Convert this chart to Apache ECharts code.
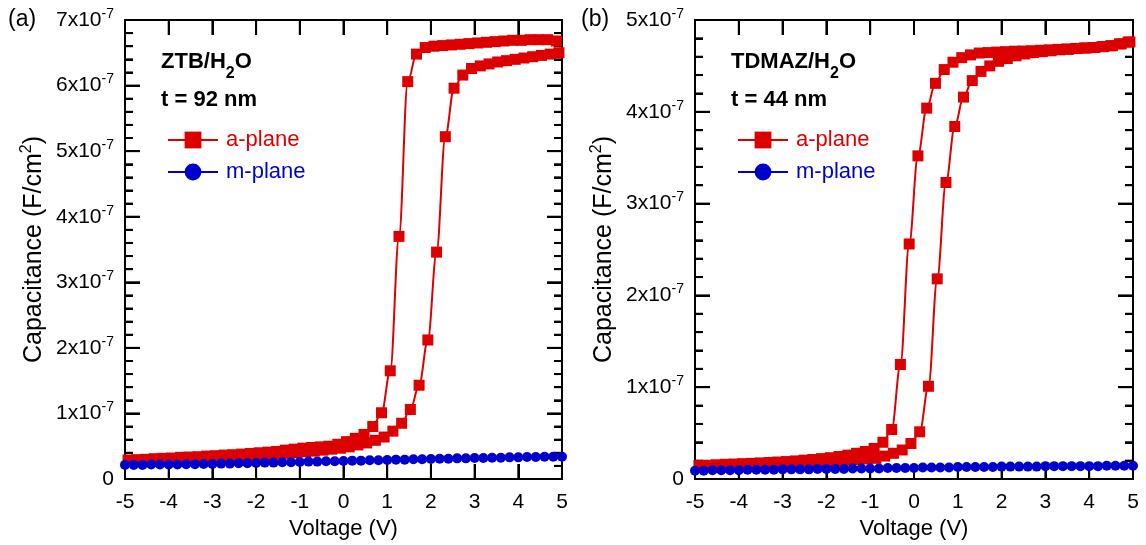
<!DOCTYPE html>
<html>
<head>
<meta charset="utf-8">
<script src="https://cdn.jsdelivr.net/npm/echarts@6/dist/echarts.min.js"></script>
<style>
  html, body { margin: 0; padding: 0; background: #fff; }
  #chart { width: 1146px; height: 545px; }
</style>
</head>
<body>
<div id="chart"></div>
<script>
// C–V sweeps of ZrO2 films on a-plane and m-plane substrates.
// Capacitance values are in units of 1e-7 F/cm^2, voltages in V.

// Panel (a): ZTB/H2O, t = 92 nm
const voltA_down = [-4.93,-4.73,-4.53,-4.33,-4.13,-3.93,-3.73,-3.53,-3.33,-3.13,-2.93,-2.73,-2.53,-2.33,-2.13,-1.93,-1.73,-1.53,-1.33,-1.13,-0.93,-0.73,-0.53,-0.33,-0.13,0.07,0.27,0.47,0.67,0.87,1.07,1.27,1.47,1.67,1.87,2.07,2.27,2.47,2.67,2.87,3.07,3.27,3.47,3.67,3.87,4.07,4.27,4.47,4.67,4.87];
const capA_down = [0.29,0.295,0.30,0.31,0.315,0.32,0.33,0.335,0.34,0.35,0.355,0.365,0.37,0.38,0.39,0.40,0.41,0.42,0.44,0.455,0.47,0.48,0.49,0.50,0.53,0.57,0.62,0.68,0.80,1.01,1.65,3.70,6.06,6.48,6.58,6.60,6.61,6.62,6.63,6.64,6.65,6.66,6.67,6.68,6.69,6.69,6.70,6.70,6.70,6.68];
const voltA_up = [-4.87,-4.67,-4.47,-4.27,-4.07,-3.87,-3.67,-3.47,-3.27,-3.07,-2.87,-2.67,-2.47,-2.27,-2.07,-1.87,-1.67,-1.47,-1.27,-1.07,-0.87,-0.67,-0.47,-0.27,-0.07,0.13,0.33,0.53,0.73,0.93,1.13,1.33,1.53,1.73,1.93,2.13,2.33,2.53,2.73,2.93,3.13,3.33,3.53,3.73,3.93,4.13,4.33,4.53,4.73,4.93];
const capA_up = [0.275,0.28,0.285,0.29,0.295,0.30,0.305,0.31,0.315,0.32,0.33,0.335,0.34,0.35,0.355,0.365,0.37,0.38,0.39,0.40,0.415,0.425,0.44,0.455,0.47,0.49,0.52,0.55,0.59,0.64,0.73,0.85,1.06,1.43,2.12,3.46,5.22,5.96,6.16,6.26,6.30,6.33,6.36,6.38,6.40,6.42,6.44,6.46,6.48,6.50];
const voltM = [-5,-4.8,-4.6,-4.4,-4.2,-4,-3.8,-3.6,-3.4,-3.2,-3,-2.8,-2.6,-2.4,-2.2,-2,-1.8,-1.6,-1.4,-1.2,-1,-0.8,-0.6,-0.4,-0.2,0,0.2,0.4,0.6,0.8,1,1.2,1.4,1.6,1.8,2,2.2,2.4,2.6,2.8,3,3.2,3.4,3.6,3.8,4,4.2,4.4,4.6,4.8,5];
const capA_m = [0.215,0.215,0.215,0.22,0.22,0.22,0.22,0.225,0.225,0.23,0.23,0.235,0.235,0.24,0.24,0.245,0.25,0.25,0.255,0.255,0.26,0.265,0.265,0.27,0.27,0.275,0.28,0.28,0.285,0.285,0.29,0.295,0.295,0.30,0.30,0.305,0.31,0.31,0.315,0.315,0.32,0.32,0.325,0.325,0.33,0.33,0.335,0.335,0.34,0.34,0.34];

// Panel (b): TDMAZ/H2O, t = 44 nm
const voltB_down = [-4.91,-4.71,-4.51,-4.31,-4.11,-3.91,-3.71,-3.51,-3.31,-3.11,-2.91,-2.71,-2.51,-2.31,-2.11,-1.91,-1.71,-1.51,-1.31,-1.11,-0.91,-0.71,-0.51,-0.31,-0.11,0.09,0.29,0.49,0.69,0.89,1.09,1.29,1.49,1.69,1.89,2.09,2.29,2.49,2.69,2.89,3.09,3.29,3.49,3.69,3.89,4.09,4.29,4.49,4.69,4.89];
const capB_down = [0.146,0.15,0.155,0.16,0.163,0.167,0.17,0.175,0.18,0.185,0.19,0.197,0.205,0.213,0.222,0.232,0.245,0.26,0.28,0.30,0.333,0.40,0.539,1.247,2.56,3.52,4.04,4.31,4.46,4.54,4.59,4.62,4.64,4.645,4.65,4.655,4.66,4.662,4.665,4.67,4.675,4.68,4.685,4.69,4.695,4.70,4.71,4.72,4.74,4.76];
const voltB_up = [-4.87,-4.67,-4.47,-4.27,-4.07,-3.87,-3.67,-3.47,-3.27,-3.07,-2.87,-2.67,-2.47,-2.27,-2.07,-1.87,-1.67,-1.47,-1.27,-1.07,-0.87,-0.67,-0.47,-0.27,-0.07,0.13,0.33,0.53,0.73,0.93,1.13,1.33,1.53,1.73,1.93,2.13,2.33,2.53,2.73,2.93,3.13,3.33,3.53,3.73,3.93,4.13,4.33,4.53,4.73,4.93];
const capB_up = [0.135,0.14,0.143,0.147,0.15,0.153,0.157,0.16,0.163,0.167,0.17,0.175,0.18,0.185,0.19,0.195,0.20,0.205,0.212,0.218,0.225,0.25,0.28,0.316,0.387,0.514,1.01,2.18,3.23,3.84,4.16,4.34,4.44,4.50,4.55,4.58,4.61,4.63,4.645,4.655,4.665,4.675,4.68,4.69,4.695,4.70,4.71,4.72,4.74,4.76];
const capB_m = [0.09,0.09,0.095,0.095,0.095,0.095,0.10,0.10,0.10,0.10,0.105,0.105,0.105,0.105,0.11,0.11,0.11,0.11,0.115,0.115,0.115,0.115,0.12,0.12,0.12,0.12,0.125,0.125,0.125,0.125,0.13,0.13,0.13,0.13,0.13,0.135,0.135,0.135,0.135,0.135,0.14,0.14,0.14,0.14,0.14,0.14,0.14,0.145,0.145,0.145,0.145];

// Axis ticks
const voltTicks = [-5, -4, -3, -2, -1, 0, 1, 2, 3, 4, 5];
const capTicksA = [0, 1, 2, 3, 4, 5, 6, 7];
const capTicksB = [0, 1, 2, 3, 4, 5];
const minorPerMajor = 5;

const RED = '#dd0000';
const BLUE = '#0000cc';
const FONT = '"Liberation Sans", Arial, Helvetica, sans-serif';
const MAJOR_LEN = 15, MINOR_LEN = 8;

const chart = echarts.init(document.getElementById('chart'));

function frameLine() {
  return { show: true, onZero: false, lineStyle: { color: '#000', width: 2 } };
}
function majorTick() {
  return { show: true, inside: true, length: MAJOR_LEN, lineStyle: { color: '#000', width: 2 } };
}
function minorTickCfg() {
  return { show: true, splitNumber: minorPerMajor, length: MINOR_LEN, lineStyle: { color: '#000', width: 2 } };
}

function xAxisPair(gridIndex) {
  const lo = voltTicks[0], hi = voltTicks[voltTicks.length - 1], step = voltTicks[1] - voltTicks[0];
  const bottom = {
    type: 'value', gridIndex, position: 'bottom',
    min: lo, max: hi, interval: step,
    axisLine: frameLine(), axisTick: majorTick(), splitLine: { show: false },
    axisLabel: { show: true, fontSize: 21, fontFamily: FONT, color: '#000', margin: 13 },
    name: 'Voltage (V)', nameLocation: 'middle', nameGap: 39,
    nameTextStyle: { fontSize: 22, fontFamily: FONT, color: '#000' }
  };
  const topAxis = {
    type: 'value', gridIndex, position: 'top',
    min: lo, max: hi, interval: step,
    axisLine: frameLine(), axisTick: majorTick(), splitLine: { show: false },
    axisLabel: { show: false }
  };
  return [bottom, topAxis];
}

function yAxisPair(gridIndex, ticks) {
  const hi = ticks[ticks.length - 1], step = ticks[1] - ticks[0];
  const leftAxis = {
    type: 'value', gridIndex, position: 'left',
    min: ticks[0], max: hi, interval: step,
    axisLine: frameLine(), axisTick: majorTick(), minorTick: minorTickCfg(), splitLine: { show: false },
    axisLabel: {
      show: true, margin: 11,
      formatter: v => v === 0 ? '{m|0}' : '{m|' + Math.round(v) + 'x10}{s|-7}',
      rich: {
        m: { fontSize: 21, fontFamily: FONT, color: '#000' },
        s: { fontSize: 14, fontFamily: FONT, color: '#000', padding: [0, 0, 12, 0] }
      }
    },
    name: 'Capacitance (F/cm{s|2})', nameLocation: 'middle', nameGap: 76,
    nameTextStyle: {
      fontSize: 25, fontFamily: FONT, color: '#000',
      rich: { s: { fontSize: 16, fontFamily: FONT, color: '#000', padding: [0, 0, 14, 0] } }
    }
  };
  const rightAxis = {
    type: 'value', gridIndex, position: 'right',
    min: ticks[0], max: hi, interval: step,
    axisLine: frameLine(), axisTick: majorTick(), minorTick: minorTickCfg(), splitLine: { show: false },
    axisLabel: { show: false }
  };
  return [leftAxis, rightAxis];
}

// Frame and inward ticks on all four sides, placed through the grid's own scales.
function frameSeries(xi, yi, yTicks) {
  const xLo = voltTicks[0], xHi = voltTicks[voltTicks.length - 1];
  const yLo = yTicks[0], yHi = yTicks[yTicks.length - 1];
  const items = [[3, 0]];
  voltTicks.forEach(v => items.push([0, v]));
  yTicks.forEach(v => items.push([1, v]));
  for (let i = 0; i < yTicks.length - 1; i++) {
    const d = (yTicks[i + 1] - yTicks[i]) / minorPerMajor;
    for (let k = 1; k < minorPerMajor; k++) items.push([2, yTicks[i] + k * d]);
  }
  const stroke = { stroke: '#000', lineWidth: 2 };
  return {
    type: 'custom', xAxisIndex: xi, yAxisIndex: yi,
    silent: true, clip: false, z: 1, animation: false,
    dimensions: ['kind', 'val'],
    encode: { x: -1, y: -1 },
    data: items,
    renderItem: (params, api) => {
      const kind = api.value(0), v = api.value(1);
      if (kind === 3) {
        const a = api.coord([xLo, yHi]), b = api.coord([xHi, yLo]);
        return { type: 'rect', shape: { x: a[0], y: a[1], width: b[0] - a[0], height: b[1] - a[1] },
          style: { fill: 'none', stroke: '#000', lineWidth: 2 } };
      }
      if (kind === 0) {
        const b = api.coord([v, yLo]), t = api.coord([v, yHi]);
        return { type: 'group', children: [
          { type: 'line', shape: { x1: b[0], y1: b[1], x2: b[0], y2: b[1] - MAJOR_LEN }, style: stroke },
          { type: 'line', shape: { x1: t[0], y1: t[1], x2: t[0], y2: t[1] + MAJOR_LEN }, style: stroke }
        ] };
      }
      const len = kind === 1 ? MAJOR_LEN : MINOR_LEN;
      const l = api.coord([xLo, v]), r = api.coord([xHi, v]);
      return { type: 'group', children: [
        { type: 'line', shape: { x1: l[0], y1: l[1], x2: l[0] + len, y2: l[1] }, style: stroke },
        { type: 'line', shape: { x1: r[0], y1: r[1], x2: r[0] - len, y2: r[1] }, style: stroke }
      ] };
    }
  };
}

function sweep(name, volts, caps, xi, yi, color, symbol, size) {
  return {
    type: 'line', name,
    xAxisIndex: xi, yAxisIndex: yi,
    data: volts.map((v, i) => [v, caps[i]]),
    symbol, symbolSize: size,
    smooth: 0.35, smoothMonotone: 'x',
    lineStyle: { color, width: 2 },
    itemStyle: { color },
    z: 3,
    animation: false
  };
}

function panelLegend(left) {
  return {
    orient: 'vertical', left, top: 124,
    itemWidth: 50, itemHeight: 21, itemGap: 10,
    selectedMode: false,
    textStyle: { fontSize: 22, fontFamily: FONT, padding: [0, 0, 0, 3] },
    data: [
      { name: 'a-plane', textStyle: { color: RED } },
      { name: 'm-plane', textStyle: { color: BLUE } }
    ]
  };
}

function panelTitle(x, chem, thick) {
  const bold = { fontSize: 22, fontWeight: 'bold', fontFamily: FONT, color: '#000' };
  return [
    {
      type: 'text', x, y: 62,
      style: {
        text: '{b|' + chem + '/H}{sub|2}{b|O}',
        verticalAlign: 'middle',
        rich: { b: bold, sub: Object.assign({}, bold, { fontSize: 16, padding: [24, 0, 0, 0] }) }
      }
    },
    {
      type: 'text', x, y: 100,
      style: { text: thick, verticalAlign: 'middle', font: 'bold 22px ' + FONT, fill: '#000' }
    }
  ];
}

const option = {
  animation: false,
  grid: [
    { left: 125, top: 20, width: 437, height: 462 },
    { left: 695, top: 20, width: 438, height: 462 }
  ],
  xAxis: [...xAxisPair(0), ...xAxisPair(1)],
  yAxis: [...yAxisPair(0, capTicksA), ...yAxisPair(1, capTicksB)],
  legend: [panelLegend(162), panelLegend(732)],
  series: [
    frameSeries(0, 0, capTicksA),
    frameSeries(2, 2, capTicksB),
    sweep('a-plane', voltA_down, capA_down, 0, 0, RED, 'rect', 11),
    sweep('a-plane', voltA_up, capA_up, 0, 0, RED, 'rect', 11),
    sweep('m-plane', voltM, capA_m, 0, 0, BLUE, 'circle', 10),
    sweep('a-plane', voltB_down, capB_down, 2, 2, RED, 'rect', 11),
    sweep('a-plane', voltB_up, capB_up, 2, 2, RED, 'rect', 11),
    sweep('m-plane', voltM, capB_m, 2, 2, BLUE, 'circle', 10)
  ],
  graphic: [
    { type: 'text', x: 8, y: 20, style: { text: '(a)', font: '23px ' + FONT, fill: '#000', verticalAlign: 'middle' } },
    { type: 'text', x: 581, y: 20, style: { text: '(b)', font: '23px ' + FONT, fill: '#000', verticalAlign: 'middle' } },
    ...panelTitle(161, 'ZTB', 't = 92 nm'),
    ...panelTitle(731, 'TDMAZ', 't = 44 nm')
  ]
};

chart.setOption(option);
</script>
</body>
</html>
